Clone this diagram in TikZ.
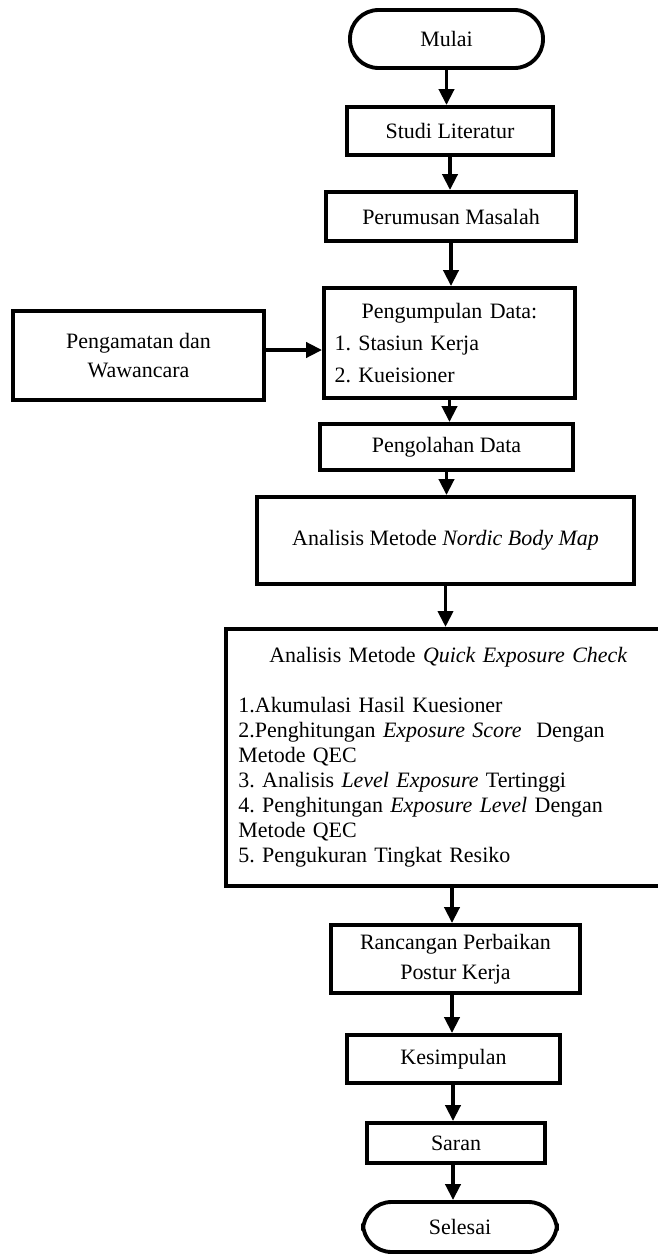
\documentclass[tikz,border=0pt]{standalone}
\usepackage{fontspec}
\setmainfont{Liberation Serif}
\usepackage{tikz}
\usetikzlibrary{positioning,arrows.meta}
\frenchspacing

\tikzset{
  box/.style={draw=black, line width=2.2pt, inner sep=2pt, align=center,
    font=\fontsize{12.5}{14.2}\selectfont},
  term/.style={box, rounded corners=0.57cm},
  flow/.style={black, line width=2.2pt, -{Triangle[length=0.32cm,width=0.3cm]}}
}

\begin{document}
\begin{tikzpicture}[x=0.02cm,y=-0.02cm]
\useasboundingbox (0,0) rectangle (657,1254);
% left column
\node[box, minimum width=5.02cm, minimum height=1.78cm,
  font=\fontsize{12.5}{17}\selectfont] (obs) at (138.5,355.5) {Pengamatan dan\\Wawancara};
% main column
\node[term, minimum width=3.86cm, minimum height=1.16cm] (mulai) at (446.5,39) {Mulai};
\node[box, minimum width=4.12cm, minimum height=0.96cm] (studi) at (450,131) {Studi Literatur};
\node[box, minimum width=5.0cm, minimum height=0.98cm] (rumus) at (451,216.5) {Perumusan Masalah};
\node[box, minimum width=5.02cm, minimum height=2.2cm, text width=4.6cm, align=left,
  font=\fontsize{12.5}{18.2}\selectfont] (kumpul) at (449.5,343) {{\centering Pengumpulan Data:\par}
  1. Stasiun Kerja\\2. Kueisioner};
\node[box, minimum width=5.06cm, minimum height=0.92cm] (olah) at (446.5,447) {Pengolahan Data};
\node[box, minimum width=7.54cm, minimum height=1.74cm] (nbm) at (445.5,540.5) {Analisis Metode \textit{Nordic Body Map}};
\node[box, minimum width=8.9cm, minimum height=5.14cm, text width=8.4cm, align=left,
  anchor=north west] (qec) at (224,627) {{\centering Analisis Metode \textit{Quick Exposure Check}\par}
  \vspace{14.2pt}
  1.Akumulasi Hasil Kuesioner\\
  2.Penghitungan \textit{Exposure Score}\ \ Dengan\\
  Metode QEC\\
  3. Analisis \textit{Level Exposure} Tertinggi\\
  4. Penghitungan \textit{Exposure Level} Dengan\\
  Metode QEC\\
  5. Pengukuran Tingkat Resiko};
\node[box, minimum width=4.98cm, minimum height=1.36cm,
  font=\fontsize{12.5}{17}\selectfont] (rancang) at (455.5,959) {Rancangan Perbaikan\\Postur Kerja};
\node[box, minimum width=4.26cm, minimum height=0.96cm] (simpul) at (453.5,1059) {Kesimpulan};
\node[box, minimum width=3.56cm, minimum height=0.8cm] (saran) at (456,1143) {Saran};
\node[term, minimum width=3.88cm, minimum height=1.0cm] (selesai) at (460,1227) {Selesai};
% arrows
\draw[flow] (mulai.south) -- (mulai.south |- studi.north);
\draw[flow] (studi.south) -- (studi.south |- rumus.north);
\draw[flow] (rumus.south) -- (rumus.south |- kumpul.north);
\draw[flow] (obs.east |- 0,350) -- (kumpul.west |- 0,350);
\draw[flow] (kumpul.south) -- (kumpul.south |- olah.north);
\draw[flow] (olah.south) -- (olah.south |- nbm.north);
\draw[flow] (nbm.south) -- (nbm.south |- qec.north);
\draw[flow] (452,884) -- (452,884 |- rancang.north);
\draw[flow] (rancang.south -| 452,0) -- (452,0 |- simpul.north);
\draw[flow] (simpul.south -| 453,0) -- (453,0 |- saran.north);
\draw[flow] (saran.south -| 453,0) -- (453,0 |- selesai.north);
\end{tikzpicture}
\end{document}
